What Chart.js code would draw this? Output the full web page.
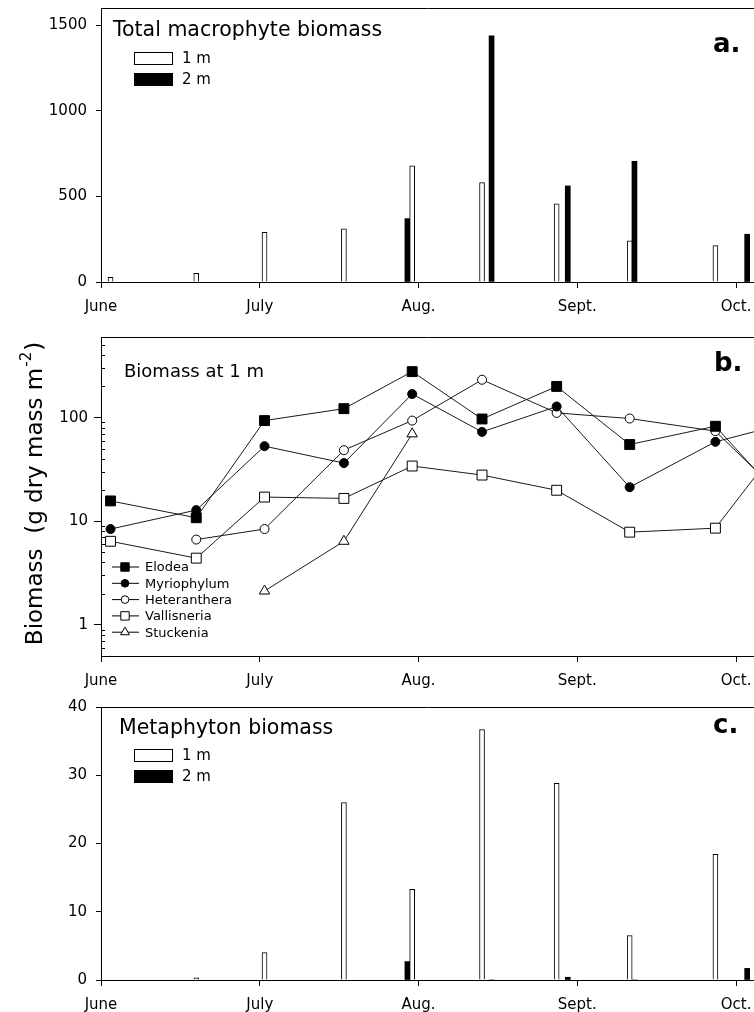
<!DOCTYPE html>
<html>
<head>
<meta charset="utf-8">
<title>Macrophyte and metaphyton biomass</title>
<script src="https://cdn.jsdelivr.net/npm/chart.js@4.4.0/dist/chart.umd.min.js"></script>
<style>
  html, body { margin: 0; padding: 0; background: #fff; }
  body { width: 754px; height: 1012px; position: relative; overflow: hidden; }
  .panel { position: absolute; left: 0; width: 754px; }
  #panelA { top: 0; height: 320px; }
  #panelB { top: 310px; height: 384px; }
  #panelC { top: 684px; height: 328px; }
</style>
</head>
<body>
<div class="panel" id="panelA"><canvas id="chartA"></canvas></div>
<div class="panel" id="panelB"><canvas id="chartB"></canvas></div>
<div class="panel" id="panelC"><canvas id="chartC"></canvas></div>
<script>
// Month axis (x values are months after 1 June)
var monthLabels = ['June', 'July', 'Aug.', 'Sept.', 'Oct.'];

// Sampling dates
var dates1m = [0.06, 0.60, 1.03, 1.53, 1.96, 2.40, 2.87, 3.33, 3.87];
var dates2m = [1.93, 2.46, 2.94, 3.36, 4.07];
var datesSpecies = [0.06, 0.60, 1.03, 1.53, 1.96, 2.40, 2.87, 3.33, 3.87, 4.34];

// a. Total macrophyte biomass
var macrophyte1m = [27, 51, 290, 310, 678, 580, 456, 240, 212];
var macrophyte2m = [370, 1438, 561, 705, 279];
var ticksA = [0, 500, 1000, 1500];

// b. Biomass at 1 m, by species
var elodea       = [15.7, 10.8, 93.6, 122, 278, 97, 200, 55, 82.5, 13.4];
var myriophyllum = [8.4, 12.8, 53, 36.4, 169, 72.8, 128, 21.3, 58.4, 90];
var heteranthera = [null, 6.65, 8.4, 48.5, 93.6, 232, 111, 98, 74, 14.8];
var vallisneria  = [6.4, 4.4, 17.1, 16.6, 34.1, 27.9, 19.9, 7.84, 8.57, 73.7];
var stuckenia    = [null, null, 2.12, 6.4, 69.7, null, null, null, null, null];
var majorTicksB = [1, 10, 100];

// c. Metaphyton biomass
var metaphyton1m = [0, 0.3, 4.0, 26.0, 13.3, 36.7, 28.8, 6.5, 18.4];
var metaphyton2m = [2.7, 0, 0.4, 0, 1.7];
var ticksC = [0, 10, 20, 30, 40];

var FONT = '"DejaVu Sans", "Liberation Sans", Arial, sans-serif';
var tickFont = { family: FONT, size: 15 };

function pair(xs, ys) {
  return xs.map(function(x, i) { return { x: x, y: ys[i] }; });
}

// log ticks for panel b: 1..9 of every decade between 0.5 and 600
var minorTicksB = [];
[0.1, 1, 10, 100].forEach(function(dec) {
  for (var d = 1; d <= 9; d++) {
    var v = +(d * dec).toPrecision(3);
    if (v >= 0.5 && v <= 600) minorTicksB.push(v);
  }
});

// keep the plot area fixed, labels may hang over the edges
function noPadding(scale) {
  scale.paddingLeft = 0;
  scale.paddingRight = 0;
  scale.paddingTop = 0;
  scale.paddingBottom = 0;
}

function monthAxis(height) {
  return {
    type: 'linear',
    min: 0,
    max: 4.113,
    offset: false,
    afterBuildTicks: function(scale) {
      scale.ticks = monthLabels.map(function(m, i) { return { value: i }; });
    },
    afterFit: function(scale) { scale.height = height; noPadding(scale); },
    grid: { drawOnChartArea: false, drawTicks: true, tickLength: 6, tickColor: '#000', offset: false },
    border: { display: true, color: '#000', width: 1 },
    ticks: {
      color: '#000', font: tickFont, padding: 10, maxRotation: 0, autoSkip: false,
      callback: function(v) { return monthLabels[Math.round(v)]; }
    }
  };
}

function valueAxis(min, max, tickList) {
  return {
    min: min,
    max: max,
    afterBuildTicks: function(scale) {
      scale.ticks = tickList.map(function(v) { return { value: v }; });
    },
    afterFit: function(scale) { scale.width = 101; noPadding(scale); },
    grid: { drawOnChartArea: false, drawTicks: true, tickLength: 5, tickColor: '#000' },
    border: { display: true, color: '#000', width: 1 },
    ticks: {
      color: '#000', font: tickFont, padding: 9, autoSkip: false,
      callback: function(v) { return String(v); }
    }
  };
}

function drawMarker(ctx, style, x, y, r, fill) {
  ctx.beginPath();
  if (style === 'rect') {
    var s = Math.SQRT1_2 * r;
    ctx.rect(x - s, y - s, 2 * s, 2 * s);
  } else if (style === 'triangle') {
    ctx.moveTo(x, y - r);
    ctx.lineTo(x + r * 0.866, y + r / 2);
    ctx.lineTo(x - r * 0.866, y + r / 2);
    ctx.closePath();
  } else {
    ctx.arc(x, y, r, 0, Math.PI * 2);
  }
  ctx.fillStyle = fill;
  ctx.fill();
  ctx.strokeStyle = '#000';
  ctx.lineWidth = 1;
  ctx.stroke();
}

// Panel title, tag letter, legend and top frame line
var panelDecor = {
  id: 'panelDecor',
  afterDraw: function(chart, args, opts) {
    var ctx = chart.ctx;
    var area = chart.chartArea;
    ctx.save();

    ctx.strokeStyle = '#000';
    ctx.lineWidth = 1;
    ctx.beginPath();
    ctx.moveTo(area.left, Math.round(area.top) + 0.5);
    ctx.lineTo(area.right, Math.round(area.top) + 0.5);
    ctx.stroke();

    ctx.fillStyle = '#000';
    ctx.textAlign = 'left';
    ctx.textBaseline = 'alphabetic';
    ctx.font = opts.titleSize + 'px ' + FONT;
    ctx.fillText(opts.title, opts.titleX, area.top + opts.titleY);
    ctx.font = 'bold 26px ' + FONT;
    ctx.fillText(opts.tag, opts.tagX, area.top + opts.tagY);

    var sets = chart.data.datasets;
    if (opts.legend === 'bar') {
      ctx.font = '15px ' + FONT;
      ctx.textBaseline = 'middle';
      sets.forEach(function(ds, i) {
        var y = area.top + opts.legendY + i * 21;
        ctx.fillStyle = ds.backgroundColor;
        ctx.fillRect(134, y, 39, 13);
        if (ds.borderWidth) {
          ctx.strokeStyle = '#000';
          ctx.strokeRect(134.5, y + 0.5, 38, 12);
        }
        ctx.fillStyle = '#000';
        ctx.fillText(ds.label, 182, y + 7);
      });
    } else if (opts.legend === 'line') {
      ctx.font = '13px ' + FONT;
      ctx.textBaseline = 'middle';
      sets.forEach(function(ds, i) {
        var y = area.top + opts.legendY + i * 16.3;
        ctx.strokeStyle = '#000';
        ctx.lineWidth = 1;
        ctx.beginPath();
        ctx.moveTo(112, y);
        ctx.lineTo(139, y);
        ctx.stroke();
        drawMarker(ctx, ds.pointStyle, 125, y, ds.pointRadius * 0.85, ds.pointBackgroundColor);
        ctx.fillStyle = '#000';
        ctx.fillText(ds.label, 145, y + 1);
      });
    }
    ctx.restore();
  }
};

// Minor log ticks pointing into the plot, plus the rotated y title
var panelBExtras = {
  id: 'panelBExtras',
  afterDraw: function(chart) {
    var ctx = chart.ctx;
    var area = chart.chartArea;
    var y = chart.scales.y;
    ctx.save();
    ctx.strokeStyle = '#000';
    ctx.lineWidth = 1;
    minorTicksB.forEach(function(v) {
      if (majorTicksB.indexOf(v) >= 0) return;
      var py = Math.round(y.getPixelForValue(v)) + 0.5;
      ctx.beginPath();
      ctx.moveTo(area.left, py);
      ctx.lineTo(area.left + 4, py);
      ctx.stroke();
    });

    var main = 'Biomass  (g dry mass m';
    var sup = '-2';
    var close = ')';
    ctx.fillStyle = '#000';
    ctx.textBaseline = 'alphabetic';
    ctx.textAlign = 'left';
    ctx.font = '23px ' + FONT;
    var w1 = ctx.measureText(main).width;
    var w3 = ctx.measureText(close).width;
    ctx.font = '15px ' + FONT;
    var w2 = ctx.measureText(sup).width;
    var start = -(w1 + w2 + w3 + 2) / 2;
    ctx.translate(42, (area.top + area.bottom) / 2 - 3);
    ctx.rotate(-Math.PI / 2);
    ctx.font = '23px ' + FONT;
    ctx.fillText(main, start, 0);
    ctx.font = '15px ' + FONT;
    ctx.fillText(sup, start + w1 + 1, -11);
    ctx.font = '23px ' + FONT;
    ctx.fillText(close, start + w1 + w2 + 2, 0);
    ctx.restore();
  }
};

Chart.defaults.font.family = FONT;
Chart.defaults.color = '#000';

var commonOptions = function(padTop, axisHeight, decor, yAxis) {
  return {
    responsive: true,
    maintainAspectRatio: false,
    animation: false,
    devicePixelRatio: 1,
    layout: { autoPadding: false, padding: { top: padTop, left: 0, right: 0, bottom: 0 } },
    scales: { x: monthAxis(axisHeight), y: yAxis },
    plugins: { legend: { display: false }, tooltip: { enabled: false }, panelDecor: decor }
  };
};

function barSets(data1, data2, d1, d2) {
  return [
    { label: '1 m', data: pair(d1, data1), backgroundColor: '#fff', borderColor: '#000',
      borderWidth: 1, barThickness: 5, grouped: false },
    { label: '2 m', data: pair(d2, data2), backgroundColor: '#000', borderColor: '#000',
      borderWidth: 0, barThickness: 5, grouped: false }
  ];
}

new Chart(document.getElementById('chartA'), {
  type: 'bar',
  data: { datasets: barSets(macrophyte1m, macrophyte2m, dates1m, dates2m) },
  options: commonOptions(8, 38, {
    title: 'Total macrophyte biomass', titleSize: 20.5, titleX: 113, titleY: 28,
    tag: 'a.', tagX: 713, tagY: 44, legend: 'bar', legendY: 44
  }, valueAxis(0, 1600, ticksA)),
  plugins: [panelDecor]
});

var lineStyle = function(label, values, style, radius, fill) {
  return {
    label: label, data: pair(datesSpecies, values),
    borderColor: '#1a1a1a', borderWidth: 1, tension: 0, spanGaps: false,
    pointStyle: style, pointRadius: radius, pointBackgroundColor: fill,
    pointBorderColor: '#000', pointBorderWidth: 1
  };
};

var axisB = valueAxis(0.5, 600, minorTicksB);
axisB.type = 'logarithmic';
axisB.grid.tickLength = 7;
axisB.grid.tickColor = function(c) {
  return c.tick && majorTicksB.indexOf(c.tick.value) >= 0 ? '#000' : 'rgba(0,0,0,0)';
};
axisB.ticks.padding = 6;
axisB.ticks.callback = function(v) {
  return majorTicksB.indexOf(v) >= 0 ? String(v) : '';
};

new Chart(document.getElementById('chartB'), {
  type: 'line',
  data: {
    datasets: [
      lineStyle('Elodea', elodea, 'rect', 7, '#000'),
      lineStyle('Myriophylum', myriophyllum, 'circle', 4.5, '#000'),
      lineStyle('Heteranthera', heteranthera, 'circle', 4.5, '#fff'),
      lineStyle('Vallisneria', vallisneria, 'rect', 7, '#fff'),
      lineStyle('Stuckenia', stuckenia, 'triangle', 6, '#fff')
    ]
  },
  options: commonOptions(27, 38, {
    title: 'Biomass at 1 m', titleSize: 18, titleX: 124, titleY: 40,
    tag: 'b.', tagX: 714, tagY: 34, legend: 'line', legendY: 230
  }, axisB),
  plugins: [panelDecor, panelBExtras]
});

new Chart(document.getElementById('chartC'), {
  type: 'bar',
  data: { datasets: barSets(metaphyton1m, metaphyton2m, dates1m, dates2m) },
  options: commonOptions(23, 32, {
    title: 'Metaphyton biomass', titleSize: 20.5, titleX: 119, titleY: 27,
    tag: 'c.', tagX: 713, tagY: 26, legend: 'bar', legendY: 42
  }, valueAxis(0, 40, ticksC)),
  plugins: [panelDecor]
});
</script>
</body>
</html>
